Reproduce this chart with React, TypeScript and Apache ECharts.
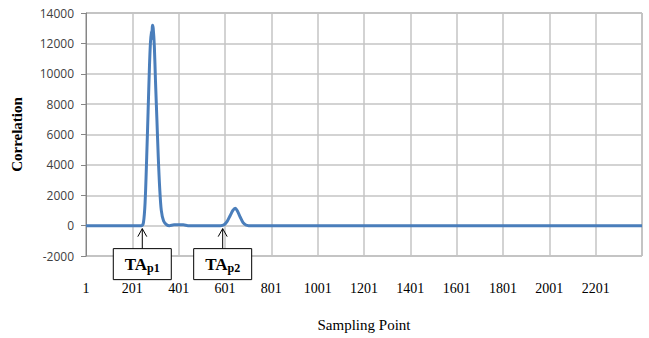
import React, { useEffect, useRef } from "react";
import * as echarts from "echarts";

// Sampling point offsets (sample - 1) and correlation values
const sampleIdx = [0, 240, 248, 255, 262, 268, 274, 278, 282, 284, 287, 290, 295, 300, 306, 312, 318, 325, 335, 348, 360, 380, 420, 440, 580, 596, 610, 622, 634, 644, 654, 666, 678, 690, 702, 2400];
const correlation = [0, 0, 200, 1500, 4500, 7500, 10500, 12000, 12800, 12300, 13200, 13000, 11800, 9500, 7000, 4500, 2500, 1000, 300, 60, 0, 50, 50, 0, 0, 60, 300, 650, 1000, 1150, 950, 550, 200, 40, 0, 0];

const annotationIdx = [243, 590];
const annotationSub = ["p1", "p2"];

const SERIF = "'Liberation Serif', 'Times New Roman', serif";

export default function App() {
  const ref = useRef<HTMLDivElement>(null);
  useEffect(() => {
    if (!ref.current) return;
    const chart = echarts.init(ref.current, null, { renderer: "svg" });
    const data = sampleIdx.map((x, i) => [x, correlation[i]]);
    chart.setOption({
      animation: false,
      grid: { left: 86, right: 7, top: 13, bottom: 82, show: true, borderColor: "#868686", borderWidth: 1 },
      xAxis: {
        type: "value",
        min: 0,
        max: 2400,
        interval: 200,
        name: "Sampling Point",
        nameLocation: "middle",
        nameGap: 61,
        nameTextStyle: { fontFamily: SERIF, fontSize: 15, color: "#000" },
        axisLine: { show: false },
        axisTick: { show: false },
        axisLabel: {
          margin: 25,
          fontFamily: SERIF,
          fontSize: 14,
          color: "#000",
          formatter: (v: number) => (v >= 2400 ? "" : String(v + 1)),
        },
        splitLine: { show: true, lineStyle: { color: "#c4c4c4", width: 1.5 } },
      },
      yAxis: {
        type: "value",
        min: -2000,
        max: 14000,
        interval: 2000,
        name: "Correlation",
        nameLocation: "middle",
        nameGap: 62,
        nameRotate: 90,
        nameTextStyle: { fontFamily: SERIF, fontSize: 15, fontWeight: "bold", color: "#000" },
        axisLine: { show: true, lineStyle: { color: "#868686" } },
        axisTick: { show: true, length: 5, lineStyle: { color: "#868686" } },
        axisLabel: {
          margin: 12,
          fontFamily: "'Open Sans', 'Liberation Sans', sans-serif",
          fontSize: 12,
          color: "#404040",
          formatter: (v: number) => String(v),
        },
        splitLine: { show: true, lineStyle: { color: "#c4c4c4", width: 1.5 } },
      },
      series: [
        {
          type: "line",
          data,
          showSymbol: false,
          smooth: 0.3,
          lineStyle: { color: "#4a7ebb", width: 3 },
          itemStyle: { color: "#4a7ebb" },
        },
      ],
    });
    const graphics: any[] = [];
    annotationIdx.forEach((idx, i) => {
      const [px, py] = chart.convertToPixel({ gridIndex: 0 }, [idx, 0]) as number[];
      const tipY = py + 3;
      const boxTop = tipY + 20;
      graphics.push(
        { type: "line", shape: { x1: px, y1: tipY, x2: px, y2: boxTop }, style: { stroke: "#000", lineWidth: 1 } },
        { type: "polyline", shape: { points: [[px - 4.5, tipY + 8], [px, tipY], [px + 4.5, tipY + 8]] }, style: { stroke: "#000", lineWidth: 1, fill: null } },
        { type: "rect", shape: { x: px - 29, y: boxTop, width: 58, height: 31 }, style: { fill: "#fff", stroke: "#000", lineWidth: 1 } },
        {
          type: "text",
          x: px,
          y: boxTop + 16,
          style: {
            text: "{a|TA}{b|" + annotationSub[i] + "}",
            align: "center",
            verticalAlign: "middle",
            fontFamily: SERIF,
            fontWeight: "bold",
            rich: {
              a: { fontFamily: SERIF, fontSize: 17, fontWeight: "bold", fill: "#000" },
              b: { fontFamily: SERIF, fontSize: 12, fontWeight: "bold", fill: "#000", padding: [7, 0, 0, 0] },
            },
          },
        }
      );
    });
    chart.setOption({ graphic: graphics });
    return () => chart.dispose();
  }, []);
  return <div ref={ref} style={{ width: 649, height: 338, position: "absolute", left: 0, top: 0 }} />;
}
